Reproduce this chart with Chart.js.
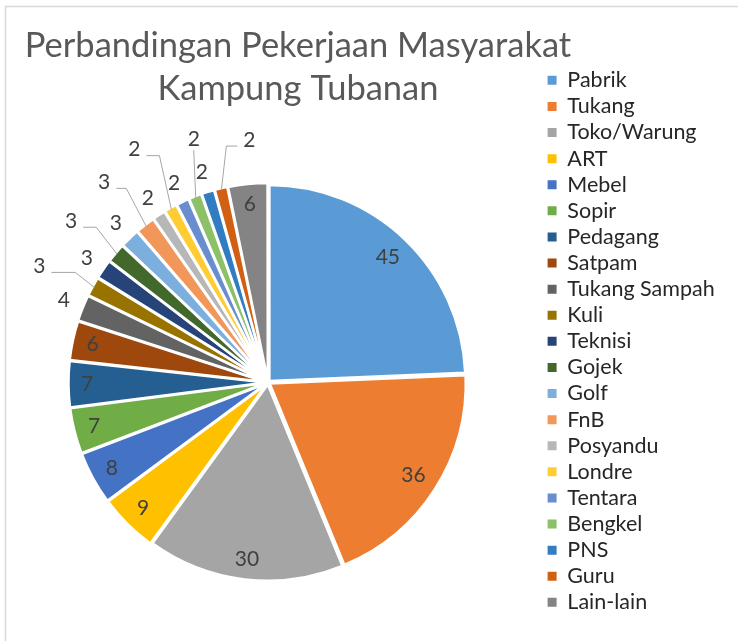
<!DOCTYPE html>
<html>
<head>
<meta charset="utf-8">
<script src="https://cdn.jsdelivr.net/npm/chart.js@4.4.1/dist/chart.umd.min.js"></script>
<style>
  html, body { margin: 0; padding: 0; background: #fff; }
  body { position: relative; width: 738px; height: 641px; overflow: hidden; }
  #pekerjaan-piechart { position: absolute; left: -7px; top: 0; }
</style>
</head>
<body>
<canvas id="pekerjaan-piechart" width="745" height="700"></canvas>
<script>
const titleLines = ['Perbandingan Pekerjaan Masyarakat', 'Kampung Tubanan'];

const categories = [
  'Pabrik', 'Tukang', 'Toko/Warung', 'ART', 'Mebel', 'Sopir', 'Pedagang',
  'Satpam', 'Tukang Sampah', 'Kuli', 'Teknisi', 'Gojek', 'Golf', 'FnB',
  'Posyandu', 'Londre', 'Tentara', 'Bengkel', 'PNS', 'Guru', 'Lain-lain',
];

const counts = [45, 36, 30, 9, 8, 7, 7, 6, 4, 3, 3, 3, 3, 3, 2, 2, 2, 2, 2, 2, 6];

const sliceColors = [
  '#5B9BD5', '#ED7D31', '#A5A5A5', '#FFC000', '#4472C4', '#70AD47', '#255E91',
  '#9E480E', '#636363', '#997300', '#264478', '#43682B', '#7CAFDD', '#F1975A',
  '#B7B7B7', '#FFCD33', '#698ED0', '#8CC168', '#327DC2', '#D26012', '#848484',
];

const FONT = 'Lato, "Open Sans", sans-serif';

// canvas sits 7px left of the window and runs below it, so the pie's
// centre (middle of the chart area) lands where the original has it
const SHIFT = 7;

// small slices get their number outside; every second one on a leader line
const insideMin = 6;
// bend of each leader relative to where it leaves the rim, then the flat run
const leaderBend = [[-19, -15], [-21, -27], [-20, -38], [-12, -54], [-2, -48], [5, -44]];
const leaderRun = [-24, -13, -10, -13, 0, 11];

const frame = {
  id: 'frame',
  beforeDraw(chart) {
    const { ctx } = chart;
    ctx.save();
    ctx.strokeStyle = '#d9d9d9';
    ctx.lineWidth = 1.5;
    ctx.strokeRect(5.5 + SHIFT, 6.5, 900, 900);
    ctx.restore();
  },
};

const chartTitle = {
  id: 'chartTitle',
  afterDraw(chart) {
    const { ctx } = chart;
    ctx.save();
    ctx.font = `34.5px ${FONT}`;
    ctx.fillStyle = '#595959';
    ctx.textAlign = 'center';
    ctx.textBaseline = 'alphabetic';
    titleLines.forEach((line, i) => ctx.fillText(line, 298 + SHIFT, 57 + i * 43));
    ctx.restore();
  },
};

const sliceLabels = {
  id: 'sliceLabels',
  afterDatasetsDraw(chart) {
    const { ctx } = chart;
    const meta = chart.getDatasetMeta(0);
    const values = chart.data.datasets[0].data;
    ctx.save();
    ctx.font = `21px ${FONT}`;
    ctx.fillStyle = '#404040';
    ctx.textAlign = 'center';
    ctx.textBaseline = 'middle';
    let outside = 0;
    meta.data.forEach((arc, i) => {
      const { x, y, startAngle, endAngle, outerRadius } = arc.getProps(
        ['x', 'y', 'startAngle', 'endAngle', 'outerRadius'], true);
      const mid = (startAngle + endAngle) / 2;
      const ux = Math.cos(mid);
      const uy = Math.sin(mid);
      const text = String(values[i]);
      const w = ctx.measureText(text).width;
      const h = 15;
      const rim = outerRadius + 2;
      if (values[i] >= insideMin) {
        const d = rim - 11 - (w / 2 * Math.abs(ux) + h / 2 * Math.abs(uy));
        ctx.fillText(text, x + ux * d, y + uy * d);
        return;
      }
      if (outside % 2 === 0) {
        const d = rim + 22;
        ctx.fillText(text, x + ux * d, y + uy * d);
      } else {
        const k = (outside - 1) / 2;
        const ax = x + ux * rim;
        const ay = y + uy * rim;
        const ex = ax + leaderBend[k][0];
        const ey = ay + leaderBend[k][1];
        const run = leaderRun[k];
        const fx = ex + run;
        ctx.strokeStyle = '#a6a6a6';
        ctx.lineWidth = 1;
        ctx.beginPath();
        ctx.moveTo(ax, ay);
        ctx.lineTo(ex, ey);
        ctx.lineTo(fx, ey);
        ctx.stroke();
        if (run === 0) {
          ctx.fillText(text, ex, ey - 11);
        } else {
          ctx.fillText(text, fx + Math.sign(run) * (w / 2 + 6), ey - 6);
        }
      }
      outside += 1;
    });
    ctx.restore();
  },
};

// legend column starts at x=550 on the canvas; work out the right padding from the widest label
const legendFont = 21.5;
const legendPad = 26.1 - legendFont;
const probe = document.createElement('canvas').getContext('2d');
probe.font = `${legendFont}px ${FONT}`;
const widest = Math.max(...categories.map((c) => probe.measureText(c).width));
const legendWidth = legendPad + 9 + legendFont / 2 + widest + 10;
const padRight = Math.max(745 - 550 - legendWidth, 0);

const ctx = document.getElementById('pekerjaan-piechart').getContext('2d');
new Chart(ctx, {
  type: 'pie',
  data: {
    labels: categories,
    datasets: [
      {
        data: counts,
        backgroundColor: sliceColors,
        borderColor: '#ffffff',
        borderWidth: 2.5,
        offset: 8,
      },
    ],
  },
  plugins: [frame, chartTitle, sliceLabels],
  options: {
    responsive: false,
    animation: false,
    events: [],
    radius: 196,
    layout: {
      padding: { left: 0, right: padRight, top: 65, bottom: 0 },
    },
    plugins: {
      title: { display: false },
      tooltip: { enabled: false },
      legend: {
        position: 'right',
        align: 'start',
        labels: {
          boxWidth: 9,
          boxHeight: 9,
          padding: legendPad,
          color: '#262626',
          font: { family: FONT, size: legendFont },
          generateLabels(chart) {
            return Chart.overrides.doughnut.plugins.legend.labels
              .generateLabels(chart)
              .map((item) => ({ ...item, lineWidth: 0 }));
          },
        },
      },
    },
  },
});
</script>
</body>
</html>
